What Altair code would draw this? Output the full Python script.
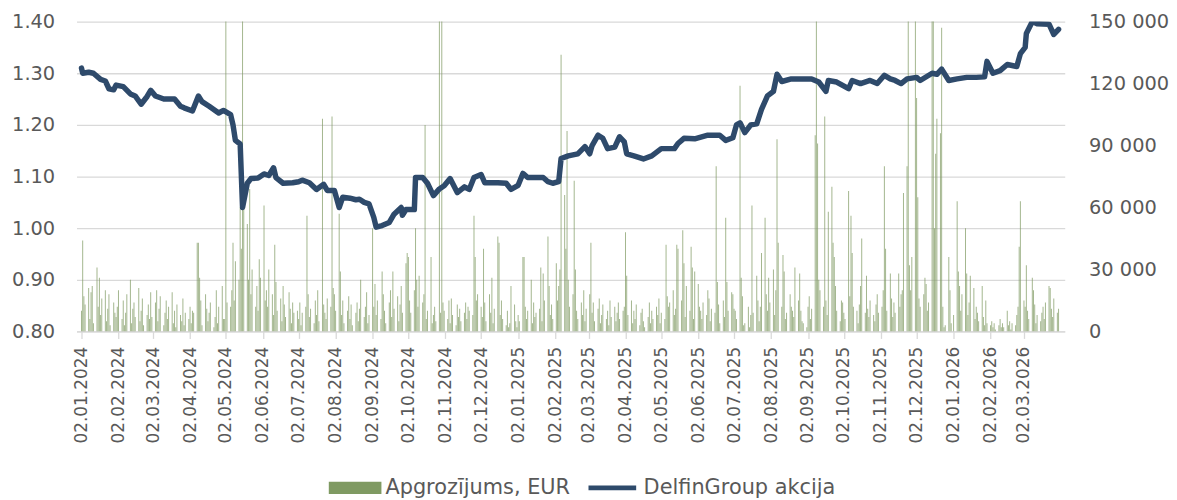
import altair as alt
import pandas as pd

BAR_LABEL = "Apgrozījums, EUR"
LINE_LABEL = "DelfinGroup akcija"
FONT = "DejaVu Sans"
TXT = "#595959"
GRID = "#d9d9d9"

# DelfinGroup share price (EUR)
price_dates = [
    "2024-01-02", "2024-01-03", "2024-01-08", "2024-01-12", "2024-01-18", "2024-01-22",
    "2024-01-25", "2024-01-29", "2024-01-31", "2024-02-06", "2024-02-12", "2024-02-16",
    "2024-02-21", "2024-02-26", "2024-02-29", "2024-03-04", "2024-03-11", "2024-03-20",
    "2024-03-25", "2024-03-28", "2024-04-04", "2024-04-09", "2024-04-12", "2024-04-18",
    "2024-04-26", "2024-04-30", "2024-05-06", "2024-05-08", "2024-05-10", "2024-05-14",
    "2024-05-16", "2024-05-20", "2024-05-23", "2024-05-29", "2024-06-03", "2024-06-07",
    "2024-06-11", "2024-06-13", "2024-06-19", "2024-06-27", "2024-07-02", "2024-07-05",
    "2024-07-11", "2024-07-17", "2024-07-23", "2024-07-26", "2024-08-01", "2024-08-05",
    "2024-08-08", "2024-08-14", "2024-08-19", "2024-08-22", "2024-08-26", "2024-08-30",
    "2024-09-03", "2024-09-05", "2024-09-10", "2024-09-16", "2024-09-20", "2024-09-26",
    "2024-09-27", "2024-09-30", "2024-10-07", "2024-10-08", "2024-10-14", "2024-10-18",
    "2024-10-23", "2024-10-28", "2024-11-01", "2024-11-06", "2024-11-12", "2024-11-18",
    "2024-11-22", "2024-11-26", "2024-12-02", "2024-12-05", "2024-12-16", "2024-12-23",
    "2024-12-27", "2025-01-02", "2025-01-06", "2025-01-10", "2025-01-17", "2025-01-23",
    "2025-01-27", "2025-01-31", "2025-02-05", "2025-02-07", "2025-02-13", "2025-02-21",
    "2025-02-27", "2025-03-03", "2025-03-05", "2025-03-10", "2025-03-14", "2025-03-18",
    "2025-03-24", "2025-03-28", "2025-04-01", "2025-04-03", "2025-04-09", "2025-04-17",
    "2025-04-24", "2025-05-02", "2025-05-13", "2025-05-16", "2025-05-21", "2025-05-30",
    "2025-06-10", "2025-06-20", "2025-06-25", "2025-07-01", "2025-07-04", "2025-07-07",
    "2025-07-11", "2025-07-16", "2025-07-21", "2025-07-25", "2025-07-30", "2025-08-04",
    "2025-08-07", "2025-08-11", "2025-08-19", "2025-08-27", "2025-09-05", "2025-09-11",
    "2025-09-17", "2025-09-19", "2025-09-26", "2025-10-06", "2025-10-09", "2025-10-16",
    "2025-10-24", "2025-10-30", "2025-11-05", "2025-11-10", "2025-11-14", "2025-11-19",
    "2025-11-24", "2025-12-02", "2025-12-05", "2025-12-15", "2025-12-19", "2025-12-23",
    "2025-12-29", "2026-01-05", "2026-01-13", "2026-01-21", "2026-01-28", "2026-01-30",
    "2026-02-04", "2026-02-10", "2026-02-16", "2026-02-24", "2026-02-27", "2026-03-03",
    "2026-03-04", "2026-03-09", "2026-03-13", "2026-03-23", "2026-03-27", "2026-03-31",
]
price_values = [
    1.310, 1.300, 1.302, 1.300, 1.288, 1.285,
    1.270, 1.268, 1.277, 1.274, 1.260, 1.256,
    1.240, 1.255, 1.267, 1.256, 1.250, 1.250,
    1.236, 1.233, 1.227, 1.256, 1.245, 1.236,
    1.223, 1.228, 1.220, 1.200, 1.170, 1.163,
    1.040, 1.087, 1.096, 1.097, 1.105, 1.102,
    1.117, 1.098, 1.087, 1.088, 1.090, 1.093,
    1.088, 1.075, 1.085, 1.073, 1.073, 1.040,
    1.060, 1.058, 1.055, 1.056, 1.050, 1.047,
    1.021, 1.002, 1.005, 1.011, 1.027, 1.040,
    1.025, 1.036, 1.036, 1.098, 1.098, 1.087,
    1.063, 1.076, 1.082, 1.096, 1.069, 1.080,
    1.075, 1.098, 1.104, 1.088, 1.088, 1.087,
    1.075, 1.083, 1.106, 1.098, 1.098, 1.098,
    1.090, 1.087, 1.090, 1.135, 1.140, 1.144,
    1.158, 1.144, 1.160, 1.180, 1.174, 1.154,
    1.157, 1.177, 1.167, 1.144, 1.140, 1.134,
    1.140, 1.154, 1.154, 1.164, 1.174, 1.173,
    1.180, 1.180, 1.170, 1.175, 1.200, 1.204,
    1.185, 1.200, 1.202, 1.230, 1.256, 1.265,
    1.298, 1.284, 1.289, 1.289, 1.289, 1.283,
    1.265, 1.286, 1.283, 1.270, 1.286, 1.280,
    1.286, 1.280, 1.296, 1.289, 1.286, 1.280,
    1.289, 1.292, 1.286, 1.300, 1.298, 1.308,
    1.286, 1.289, 1.292, 1.292, 1.293, 1.323,
    1.300, 1.305, 1.317, 1.313, 1.338, 1.350,
    1.377, 1.400, 1.396, 1.395, 1.375, 1.385,
]

# Daily turnover (thousand EUR), one value per trading day of each month
volume_k = {
    "2024-01": [10, 44, 17, 13, 21, 6, 19, 22, 4, 31, 12, 26, 8, 16, 20, 5, 11, 18, 3, 14, 9, 7],
    "2024-02": [12, 20, 6, 15, 3, 9, 18, 25, 4, 11, 14, 7, 21, 5, 10, 16, 3, 8, 13, 6, 19],
    "2024-03": [7, 14, 20, 5, 11, 17, 3, 9, 15, 6, 12, 19, 4, 10, 2, 13, 8, 5, 16, 3, 9],
    "2024-04": [6, 12, 4, 10, 9, 43, 43, 26, 15, 3, 18, 11, 5, 9, 14, 2, 7, 20, 4, 12, 22, 6],
    "2024-05": [6, 180, 14, 12, 20, 43, 15, 34, 25, 60, 40, 180, 69, 52, 25, 69, 18, 30, 12, 22, 10, 35, 26],
    "2024-06": [61, 15, 20, 12, 30, 18, 8, 42, 24, 10, 16, 5, 22, 13, 7, 19, 11, 4, 14, 9],
    "2024-07": [10, 6, 14, 3, 9, 12, 56, 18, 7, 11, 4, 15, 8, 20, 5, 103, 13, 9, 6, 16, 12, 104, 21],
    "2024-08": [18, 10, 57, 29, 8, 15, 4, 10, 17, 6, 13, 3, 9, 14, 5, 11, 25, 7, 12, 19, 4, 8],
    "2024-09": [50, 12, 23, 8, 15, 6, 29, 18, 10, 4, 14, 20, 7, 29, 11, 17, 5, 13, 22, 9, 33],
    "2024-10": [38, 36, 15, 9, 20, 50, 25, 12, 27, 14, 18, 100, 6, 10, 36, 4, 8, 12, 5, 180, 9, 180, 14],
    "2024-11": [10, 6, 15, 4, 16, 8, 3, 13, 7, 11, 5, 9, 14, 6, 12, 10, 8, 56, 36, 15, 18],
    "2024-12": [12, 7, 40, 14, 5, 18, 9, 26, 4, 11, 46, 43, 8, 15, 6, 3, 10, 2, 4, 22, 13, 5],
    "2025-01": [2, 8, 5, 36, 36, 12, 6, 10, 25, 4, 14, 7, 9, 11, 31, 5, 28, 15, 46, 22, 8, 13, 6],
    "2025-02": [33, 15, 22, 30, 134, 66, 40, 97, 25, 12, 18, 73, 30, 10, 6, 14, 8, 20, 5, 11],
    "2025-03": [18, 43, 9, 14, 5, 11, 16, 4, 8, 13, 6, 10, 3, 15, 7, 12, 5, 9, 14, 6, 10],
    "2025-04": [12, 48, 27, 8, 15, 4, 10, 6, 13, 3, 9, 11, 5, 2, 7, 14, 4, 10, 6, 12, 8, 16],
    "2025-05": [4, 9, 6, 42, 17, 12, 14, 20, 8, 11, 42, 40, 15, 49, 33, 7, 22, 10, 41, 31, 6, 29],
    "2025-06": [23, 12, 10, 6, 14, 8, 20, 16, 5, 11, 9, 80, 24, 13, 4, 15, 7, 55, 24, 10, 19],
    "2025-07": [18, 11, 10, 6, 119, 26, 17, 3, 4, 12, 2, 8, 61, 9, 27, 15, 5, 12, 38, 55, 18, 10, 26],
    "2025-08": [14, 30, 8, 20, 93, 43, 12, 37, 29, 6, 9, 18, 12, 10, 7, 31, 15, 28, 10, 5, 4],
    "2025-09": [2, 12, 17, 6, 11, 95, 180, 91, 25, 20, 12, 104, 15, 8, 58, 70, 43, 36, 22, 10, 5, 15],
    "2025-10": [14, 9, 6, 68, 17, 56, 38, 12, 10, 4, 13, 22, 45, 9, 27, 11, 7, 15, 8, 5, 13, 18, 9],
    "2025-11": [12, 20, 80, 40, 10, 28, 16, 7, 14, 9, 28, 12, 18, 20, 67, 80, 180, 32, 20, 36],
    "2025-12": [180, 113, 65, 16, 12, 18, 26, 23, 10, 14, 180, 180, 50, 86, 103, 96, 147, 12, 2, 3, 36, 20, 4],
    "2026-01": [0, 8, 63, 29, 22, 10, 18, 50, 28, 8, 14, 27, 21, 6, 12, 9, 5, 22, 7, 3, 15, 4],
    "2026-02": [3, 5, 2, 4, 1, 3, 6, 2, 4, 2, 10, 3, 5, 1, 4, 3, 8, 12, 41, 63],
    "2026-03": [15, 12, 32, 10, 6, 26, 20, 13, 4, 8, 5, 9, 12, 6, 14, 22, 21, 11, 7, 16, 9, 11],
}

# x-axis tick labels: the 2nd of every month
tick_dates = [
    "2024-01-02", "2024-02-02", "2024-03-02", "2024-04-02", "2024-05-02", "2024-06-02",
    "2024-07-02", "2024-08-02", "2024-09-02", "2024-10-02", "2024-11-02", "2024-12-02",
    "2025-01-02", "2025-02-02", "2025-03-02", "2025-04-02", "2025-05-02", "2025-06-02",
    "2025-07-02", "2025-08-02", "2025-09-02", "2025-10-02", "2025-11-02", "2025-12-02",
    "2026-01-02", "2026-02-02", "2026-03-02",
]
left_ticks = [0.80, 0.90, 1.00, 1.10, 1.20, 1.30, 1.40]
right_ticks = [0, 30000, 60000, 90000, 120000, 150000]


def ms(day):
    return int(pd.Timestamp(day, tz="UTC").value // 10**6)


# ---- tables ----
bdays = pd.bdate_range("2024-01-02", "2026-03-31")
vol_rows = []
for month, vals in volume_k.items():
    days = [d for d in bdays if d.strftime("%Y-%m") == month]
    for d, v in zip(days, vals):
        vol_rows.append({"date": d.strftime("%Y-%m-%d"), "vol": v * 1000, "s": BAR_LABEL})
vol_df = pd.DataFrame(vol_rows)

price_df = pd.DataFrame({"date": price_dates, "price": price_values, "s": LINE_LABEL})

x_enc = alt.X(
    "date:T",
    scale=alt.Scale(type="utc", domain=[ms("2024-01-02"), ms("2026-04-01")]),
    axis=alt.Axis(
        values=[ms(d) for d in tick_dates],
        labelExpr="utcFormat(datum.value, '%d.%m.%Y')",
        labelAngle=-90, title=None, grid=False,
        tickColor=GRID, tickSize=7, tickWidth=1.3,
        domainColor=GRID, domainWidth=1.3,
        labelFont=FONT, labelFontSize=17, labelColor=TXT, labelPadding=8,
        labelOverlap=False, labelSeparation=0,
    ),
)

bars = alt.Chart(vol_df).mark_bar(width=1, opacity=0.72, clip=True).encode(
    x=x_enc,
    y=alt.Y(
        "vol:Q",
        scale=alt.Scale(domain=[0, 150000]),
        axis=alt.Axis(
            orient="right", values=right_ticks,
            labelExpr="replace(format(datum.value, ','), ',', ' ')",
            grid=False, ticks=False, domain=False, title=None,
            labelFont=FONT, labelFontSize=19.5, labelColor=TXT, labelPadding=24,
        ),
    ),
    color=alt.Color(
        "s:N",
        scale=alt.Scale(domain=[BAR_LABEL], range=["#7f9a62"]),
        legend=alt.Legend(
            orient="none", legendX=254, legendY=443, title=None,
            symbolType="M-1,-0.23L1,-0.23L1,0.23L-1,0.23Z", symbolSize=2809,
            symbolOpacity=1, symbolStrokeWidth=0,
            labelFont=FONT, labelFontSize=21, labelColor=TXT, labelOffset=4,
            labelLimit=500, padding=0,
        ),
    ),
)

line = alt.Chart(price_df).mark_line(
    strokeWidth=5.5, strokeCap="round", strokeJoin="round", clip=True
).encode(
    x=x_enc,
    y=alt.Y(
        "price:Q",
        scale=alt.Scale(domain=[0.8, 1.4], zero=False),
        axis=alt.Axis(
            orient="left", values=left_ticks, format=".2f",
            grid=True, gridColor=GRID, gridWidth=1.3,
            ticks=False, domain=False, title=None,
            labelFont=FONT, labelFontSize=19.5, labelColor=TXT, labelPadding=22,
        ),
    ),
    color=alt.Color(
        "s:N",
        scale=alt.Scale(domain=[LINE_LABEL], range=["#2e4a6b"]),
        legend=alt.Legend(
            orient="none", legendX=513, legendY=443, title=None,
            symbolType="stroke", symbolSize=2304, symbolStrokeWidth=5,
            labelFont=FONT, labelFontSize=21, labelColor=TXT, labelOffset=5,
            labelLimit=500, padding=0,
        ),
    ),
)

chart = (
    alt.layer(bars, line)
    .resolve_scale(y="independent", color="independent")
    .properties(
        width=995, height=312,
        autosize=alt.AutoSizeParams(type="none"),
        padding={"left": 69, "top": 12, "right": 105, "bottom": 166},
    )
    .configure_view(stroke=None)
)

chart.save("out.html", embed_options={"renderer": "svg", "actions": False})
